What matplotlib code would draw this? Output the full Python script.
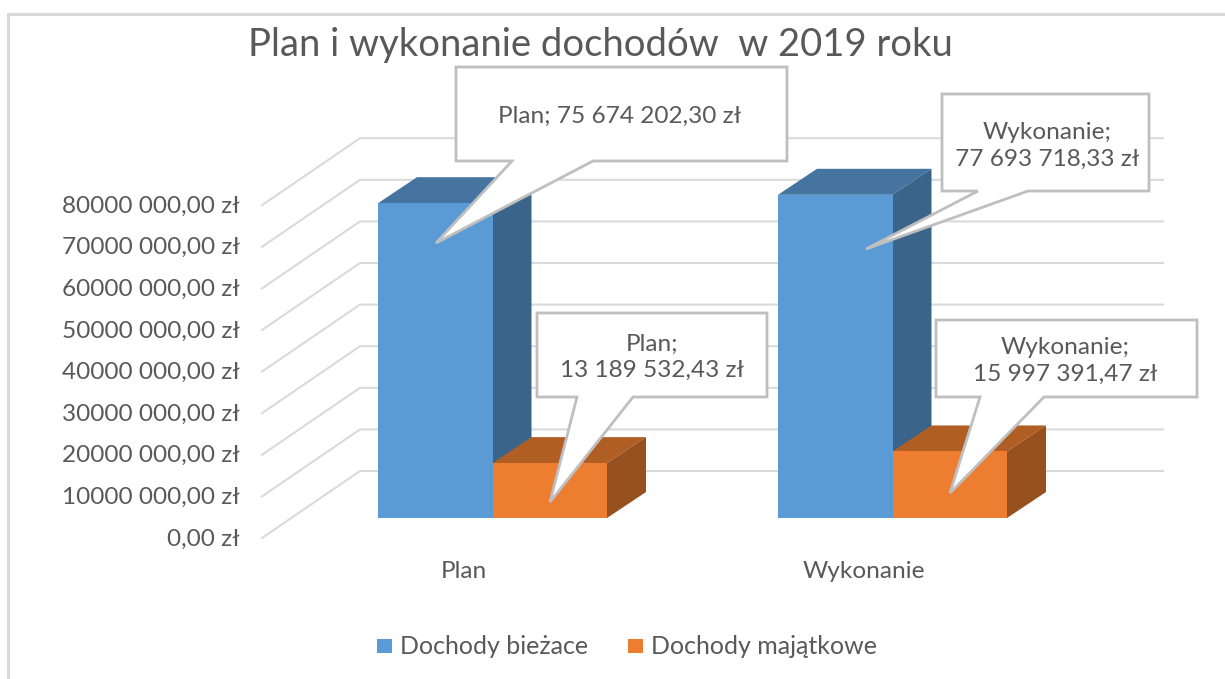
import matplotlib
matplotlib.use("Agg")
import matplotlib.pyplot as plt
from matplotlib.patches import Polygon, Rectangle
from matplotlib.transforms import Affine2D

plt.rcParams['font.family'] = ['Lato', 'DejaVu Sans']

# data
categories = ["Plan", "Wykonanie"]
biezace = [75674202.30, 77693718.33]
majatkowe = [13189532.43, 15997391.47]
series_names = ["Dochody bieżace", "Dochody majątkowe"]
tick_values = [0, 10000000, 20000000, 30000000, 40000000, 50000000, 60000000, 70000000, 80000000]
tick_labels = ["0,00 zł", "10000 000,00 zł", "20000 000,00 zł", "30000 000,00 zł", "40000 000,00 zł",
               "50000 000,00 zł", "60000 000,00 zł", "70000 000,00 zł", "80000 000,00 zł"]
callouts_biezace = ["Plan; 75 674 202,30 zł", "Wykonanie;\n77 693 718,33 zł"]
callouts_majatkowe = ["Plan;\n13 189 532,43 zł", "Wykonanie;\n15 997 391,47 zł"]
title = "Plan i wykonanie dochodów  w 2019 roku"

W, H = 1225, 679
TXT = "#595959"
GRID = "#DADADA"
BORDER = "#BFBFBF"
FS = 17.6

fig = plt.figure(figsize=(W / 100, H / 100), dpi=100)
ax = fig.add_axes([0, 0, 1, 1])
ax.axis("off")

# y axis in zloty, bar floor sits at pixel row 518, 10 mln = 41.6 px
per_px = 10000000 / 41.6
ax.set_xlim(0, W)
ax.set_ylim((518 - H) * per_px, 518 * per_px)

# helper for things placed in picture pixels (top left origin)
px = Affine2D().scale(1, -1).translate(0, H)

# chart frame, only left and top edge are in the crop
ax.plot([8, 8, W], [H, 14, 14], transform=px, color="#D9D9D9", lw=2.2, zorder=0, solid_joinstyle="miter")

# walls, gridlines
for v in tick_values:
    ax.plot([262, 360, 1163], [v - 20 * per_px, v + 47 * per_px, v + 47 * per_px],
            color=GRID, lw=1.5, zorder=1, solid_joinstyle="miter")


def bar3d(x0, x1, val, c_front, c_top, c_side, z):
    dx = 39
    dy = 26 * per_px
    ax.add_patch(Polygon([(x0, val), (x1, val), (x1 + dx, val + dy), (x0 + dx, val + dy)], fc=c_top, ec="none", zorder=z))
    ax.add_patch(Polygon([(x1, 0), (x1 + dx, dy), (x1 + dx, val + dy), (x1, val)], fc=c_side, ec="none", zorder=z))
    ax.add_patch(Rectangle((x0, 0), x1 - x0, val, fc=c_front, ec="none", zorder=z + 0.1))


lefts = [378, 778]
bw = 114.5
for i in range(len(categories)):
    bar3d(lefts[i], lefts[i] + bw, biezace[i], "#5B9BD5", "#44749F", "#3A6489", 2)
    bar3d(lefts[i] + bw, lefts[i] + 2 * bw, majatkowe[i], "#ED7D31", "#B15E25", "#97501F", 3)


def callout(box, base, tip, txt, center):
    x0, y0, x1, y1 = box
    pts = [(x0, y0), (x1, y0), (x1, y1), (base[1], y1), tip, (base[0], y1), (x0, y1)]
    ax.add_patch(Polygon(pts, closed=True, transform=px, fc="white", ec=BORDER, lw=2, zorder=5, joinstyle="miter"))
    ax.text(center[0], center[1], txt, transform=px, ha="center", va="center", fontsize=FS, color=TXT,
            zorder=6, linespacing=1.3)


callout((456, 67, 787, 161), (512, 593), (436, 243), callouts_biezace[0], (620, 116))
callout((942, 94, 1149, 191), (978, 1028), (866, 249), callouts_biezace[1], (1047, 146))
callout((537, 313, 767, 397), (577, 633), (550, 502), callouts_majatkowe[0], (652, 357))
callout((936, 320, 1197, 397), (980, 1044), (950, 493), callouts_majatkowe[1], (1065, 361))

# tick labels
for v, lab in zip(tick_values, tick_labels):
    ax.text(240, v - 20 * per_px - 1 * per_px, lab, ha="right", va="center", fontsize=FS, color=TXT, zorder=4)

# category labels
cat_x = [464, 864]
for x, c in zip(cat_x, categories):
    ax.text(x, 572, c, transform=px, ha="center", va="center", fontsize=FS, color=TXT)

ax.text(600, 45, title, transform=px, ha="center", va="center", fontsize=27.5, color=TXT)

# legend
ax.add_patch(Rectangle((377, 639), 15, 14, transform=px, fc="#5B9BD5", ec="none"))
ax.add_patch(Rectangle((628, 639), 15, 14, transform=px, fc="#ED7D31", ec="none"))
ax.text(400, 647, series_names[0], transform=px, ha="left", va="center", fontsize=18, color=TXT)
ax.text(651, 647, series_names[1], transform=px, ha="left", va="center", fontsize=18, color=TXT)

fig.savefig("out.png", dpi=100)
